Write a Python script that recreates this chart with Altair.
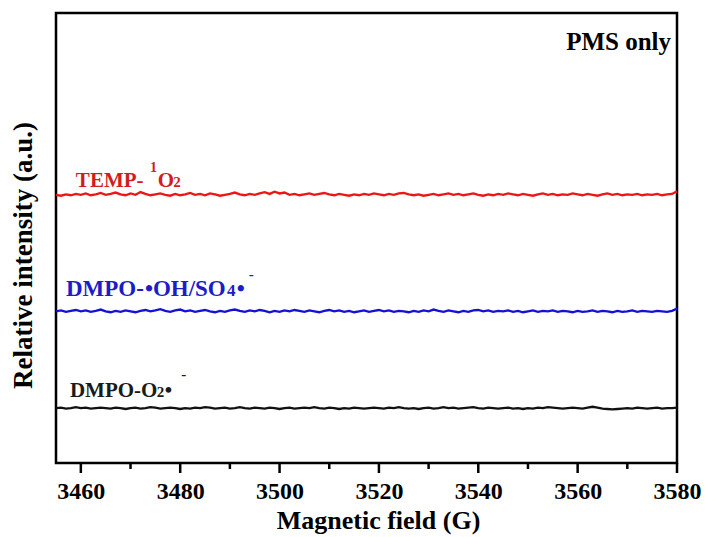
import altair as alt
import pandas as pd

# Magnetic field sweep (G), one sample per gauss
field = list(range(3455, 3581))

# EPR signals (a.u.), stacked baselines
temp_1o2 = [
    59.6, 59.4, 59.7, 59.5, 59.8, 59.6, 59.9, 59.5, 59.7, 60.0,
    59.6, 59.8, 60.1, 59.7, 59.5, 59.9, 59.6, 60.2, 59.8, 59.5,
    59.7, 59.9, 59.6, 59.4, 59.8, 59.5, 59.7, 60.0, 59.6, 59.8,
    59.5, 59.9, 59.7, 59.4, 59.6, 59.8, 60.1, 59.7, 59.5, 59.8,
    59.6, 59.9, 60.2, 59.8, 60.3, 59.9, 60.1, 59.6, 59.8, 59.5,
    59.7, 59.9, 59.6, 59.8, 60.0, 59.7, 59.5, 59.8, 59.6, 59.4,
    59.7, 59.5, 59.8, 59.6, 59.9, 59.7, 59.5, 59.8, 59.6, 59.9,
    60.0, 59.7, 59.5, 59.7, 59.4, 59.6, 59.8, 59.5, 59.7, 59.9,
    59.6, 59.8, 59.5, 59.7, 59.9, 59.6, 59.4, 59.7, 59.5, 59.8,
    59.6, 59.9, 59.7, 59.5, 59.8, 59.6, 59.4, 59.7, 59.9, 59.6,
    59.8, 59.5, 59.7, 59.6, 59.9, 59.7, 59.5, 59.8, 59.6, 59.4,
    59.7, 59.9, 59.6, 59.8, 59.5, 59.7, 59.6, 59.8, 59.5, 59.7,
    59.6, 59.8, 59.5, 59.7, 59.8, 60.4,
]
dmpo_oh_so4 = [
    33.7, 33.9, 33.6, 33.8, 34.0, 33.7, 33.9, 33.6, 33.8, 34.1,
    33.7, 33.5, 33.8, 33.6, 33.9, 33.7, 33.5, 33.8, 34.0, 33.7,
    33.9, 34.2, 33.8, 33.6, 33.9, 34.1, 33.7, 33.9, 33.6, 33.8,
    34.0, 33.7, 33.5, 33.8, 33.6, 33.9, 34.1, 33.8, 33.6, 33.9,
    33.7, 34.0, 33.8, 33.5, 33.8, 33.6, 33.9, 33.7, 34.0, 33.8,
    33.6, 33.9, 33.7, 33.5, 33.8, 34.0, 33.7, 33.9, 33.6, 33.8,
    33.5, 33.7, 33.9, 33.6, 33.8, 34.0, 33.7, 33.9, 33.6, 33.8,
    33.7, 33.5, 33.8, 33.6, 33.9, 33.7, 34.1, 33.8, 33.6, 33.9,
    33.7, 33.5, 33.8, 33.6, 33.9, 34.0, 33.7, 33.9, 33.6, 33.8,
    33.7, 33.9, 33.6, 33.8, 33.5, 33.7, 33.9, 33.6, 33.8, 33.7,
    33.9, 33.6, 33.8, 33.7, 33.5, 33.8, 33.6, 33.7, 33.9, 33.6,
    33.8, 33.7, 33.5, 33.8, 33.6, 33.7, 33.9, 33.6, 33.8, 33.7,
    33.6, 33.8, 33.7, 33.6, 33.8, 34.3,
]
dmpo_o2 = [
    12.2, 12.3, 12.1, 12.2, 12.4, 12.2, 12.3, 12.1, 12.2, 12.3,
    12.2, 12.1, 12.3, 12.2, 12.0, 12.2, 12.3, 12.1, 12.2, 12.4,
    12.3, 12.1, 12.2, 12.3, 12.2, 12.0, 12.2, 12.1, 12.3, 12.2,
    12.4, 12.3, 12.1, 12.2, 12.3, 12.1, 12.2, 12.4, 12.2, 12.1,
    12.3, 12.2, 12.1, 12.3, 12.2, 12.0, 12.2, 12.3, 12.1, 12.2,
    12.3, 12.2, 12.4, 12.2, 12.1, 12.3, 12.2, 12.0, 12.2, 12.1,
    12.3, 12.2, 12.1, 12.2, 12.3, 12.2, 12.1, 12.3, 12.2, 12.4,
    12.2, 12.1, 12.2, 12.0, 12.2, 12.3, 12.1, 12.2, 12.4, 12.2,
    12.3, 12.1, 12.2, 12.3, 12.4, 12.2, 12.1, 12.3, 12.2, 12.1,
    12.2, 12.3, 12.1, 12.2, 12.0, 12.2, 12.1, 12.3, 12.2, 12.4,
    12.3, 12.2, 12.1, 12.2, 12.3, 12.2, 12.1, 12.3, 12.5, 12.3,
    12.1, 12.0, 11.9, 12.0, 12.1, 12.2, 12.1, 12.3, 12.2, 12.1,
    12.2, 12.3, 12.1, 12.2, 12.2, 12.3,
]

series_names = ["TEMP", "DMPO-OH", "DMPO-O2"]
series_colors = ["#ee1515", "#1212d6", "#111111"]

major_ticks = [3460, 3480, 3500, 3520, 3540, 3560, 3580]
minor_ticks = [3470, 3490, 3510, 3530, 3550, 3570]

# Label fragments: text, field position, intensity baseline, font size, colour
label_text = ["TEMP-", "1", "O", "2",
              "DMPO-", "\u2022", "OH/SO", "4", "\u2022", "-",
              "DMPO-O", "2", "\u2022", "-"]
label_field = [3459.0, 3473.9, 3475.5, 3478.6,
               3457.0, 3472.9, 3474.5, 3489.4, 3491.4, 3493.8,
               3457.8, 3475.3, 3476.9, 3480.2]
label_level = [61.3, 64.7, 61.3, 61.3,
               37.1, 37.1, 37.1, 37.1, 37.1, 40.9,
               14.7, 14.7, 14.7, 18.6]
label_size = [21, 14, 21, 15,
              23, 23, 23, 17, 23, 15,
              21, 15, 21, 15]
label_color = ["#d11d1d"] * 4 + ["#1c1cc9"] * 6 + ["#1a1a1a"] * 4

rows = []
for name, values in zip(series_names, [temp_1o2, dmpo_oh_so4, dmpo_o2]):
    for f, v in zip(field, values):
        rows.append({"field": f, "intensity": v, "series": name})
spectra = pd.DataFrame(rows)

labels = pd.DataFrame({
    "text": label_text, "field": label_field, "intensity": label_level,
    "size": label_size, "color": label_color,
})
major = pd.DataFrame({"field": major_ticks})
minor = pd.DataFrame({"field": minor_ticks})
corner = pd.DataFrame({"text": ["PMS only"], "field": [3578.8], "intensity": [91.8]})

FONT = "Liberation Serif"

x_axis = alt.Axis(
    values=major_ticks, format="d", domain=False, grid=False, ticks=False,
    labelFont=FONT, labelFontWeight="bold", labelFontSize=24, labelColor="black",
    labelBaseline="alphabetic", labelPadding=35,
    labelOverlap=False, labelBound=False, labelFlush=False,
    title="Magnetic field (G)", titleFont=FONT, titleFontWeight="bold",
    titleFontSize=26, titleColor="black", titleBaseline="alphabetic",
    titleX=322, titleY=65, titleAlign="center",
)
y_axis = alt.Axis(
    labels=False, ticks=False, domain=False, grid=False,
    title="Relative intensity (a.u.)", titleFont=FONT, titleFontWeight="bold",
    titleFontSize=27, titleColor="black", titleBaseline="alphabetic",
    titleAngle=-90, titleAlign="center", titleX=-25, titleY=242,
)

x_enc = alt.X("field:Q", scale=alt.Scale(domain=[3455, 3580], nice=False, zero=False), axis=x_axis)
y_enc = alt.Y("intensity:Q", scale=alt.Scale(domain=[0, 100], nice=False), axis=y_axis)

lines = alt.Chart(spectra).mark_line(strokeWidth=2.3).encode(
    x=x_enc,
    y=y_enc,
    color=alt.Color("series:N", scale=alt.Scale(domain=series_names, range=series_colors), legend=None),
    detail="series:N",
)

# Outward ticks on the field axis: long at 20 G, short at 10 G
major_rules = alt.Chart(major).mark_rule(color="black", strokeWidth=2.5).encode(
    x=x_enc, y=alt.value(450), y2=alt.value(460),
)
minor_rules = alt.Chart(minor).mark_rule(color="black", strokeWidth=2.5).encode(
    x=x_enc, y=alt.value(450), y2=alt.value(456),
)

text_marks = alt.Chart(labels).mark_text(
    font=FONT, fontWeight="bold", align="left", baseline="alphabetic"
).encode(
    x=x_enc,
    y=y_enc,
    text="text:N",
    size=alt.Size("size:Q", scale=None),
    color=alt.Color("color:N", scale=None),
)

corner_text = alt.Chart(corner).mark_text(
    font=FONT, fontWeight="bold", align="right", baseline="alphabetic",
    fontSize=25, color="black"
).encode(x=x_enc, y=y_enc, text="text:N")

chart = alt.layer(lines, major_rules, minor_rules, text_marks, corner_text).properties(
    width=621, height=450,
    autosize=alt.AutoSizeParams(type="none"),
    padding={"left": 56, "top": 13, "right": 28, "bottom": 74},
).configure_view(stroke="black", strokeWidth=2.5)

chart.save("out.html", embed_options={"renderer": "svg", "actions": False})
